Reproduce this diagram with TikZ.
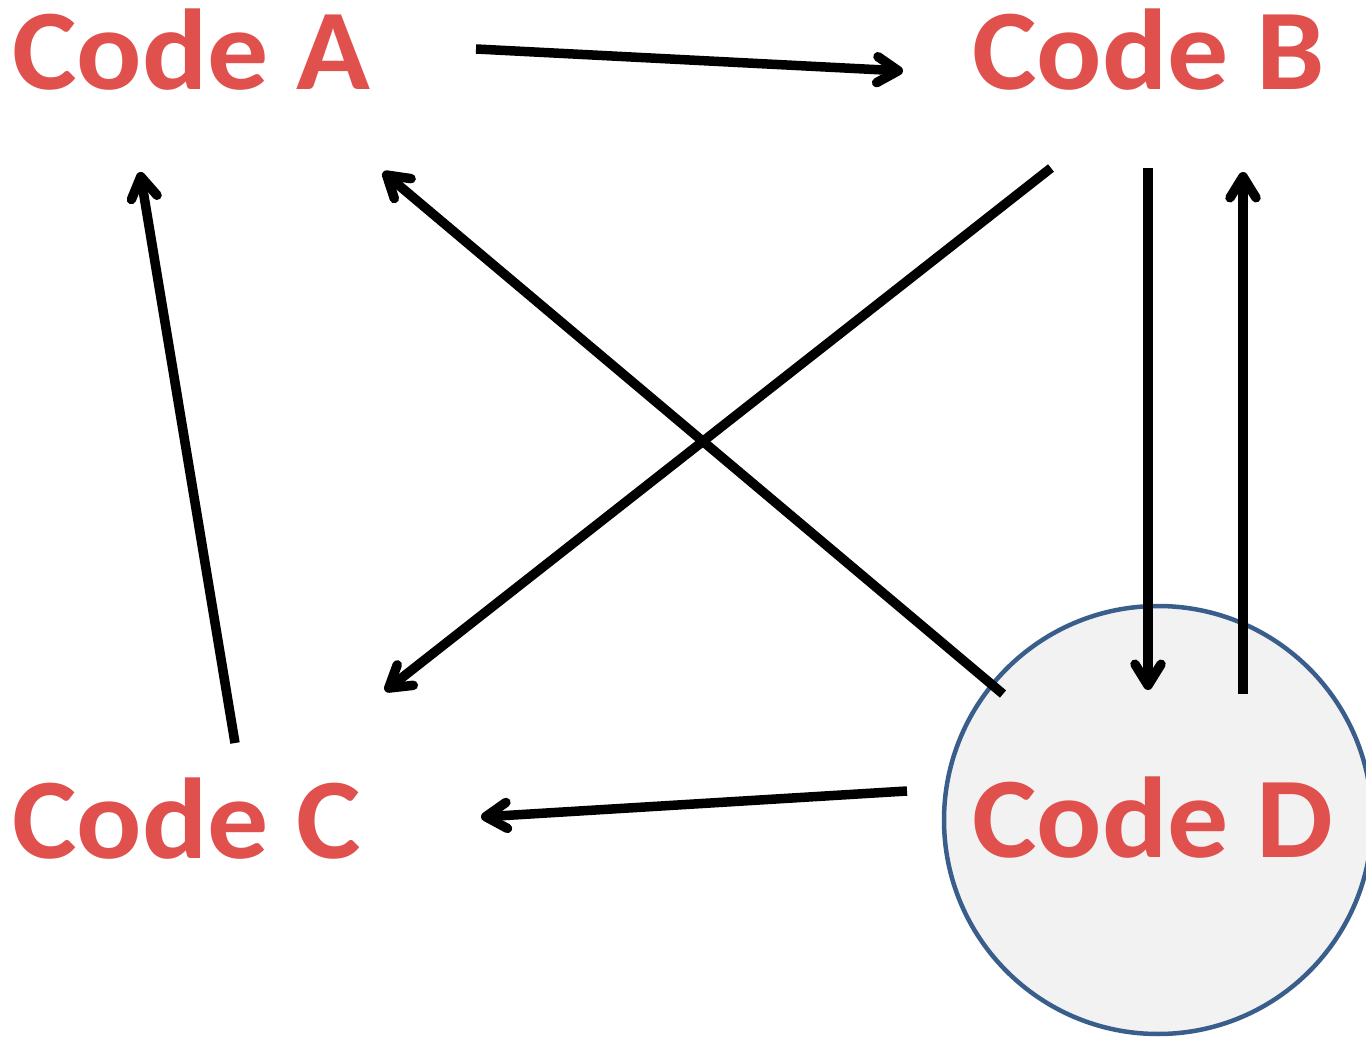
\documentclass[tikz,border=0pt]{standalone}
\usepackage{fontspec}
\usepackage{graphicx}
\setmainfont{Carlito}
\newfontfamily\codefont{Carlito}[FakeBold=1.2,BoldFont=*]
\usetikzlibrary{arrows.meta}
\definecolor{codered}{HTML}{E0504D}
\definecolor{circfill}{HTML}{F2F2F2}
\definecolor{circline}{HTML}{3A5E8C}
\newcommand{\codetext}[1]{\scalebox{1.06}[1]{#1}}
\tikzset{
  codelabel/.style={anchor=base west, inner sep=0pt, text=codered,
    font=\fontsize{115}{122}\selectfont\bfseries},
  link/.style={line width=9.5pt, draw=black,
    -{Straight Barb[length=21pt,width=26pt,line cap=round,line join=round]}}
}
\begin{document}
\begin{tikzpicture}[x=1pt,y=-1pt]
\useasboundingbox (0,0) rectangle (1366,1040);
\node[circle, draw=circline, fill=circfill, line width=4.5pt, minimum size=428pt, inner sep=0pt] (dcirc) at (1158,820) {};
\node[codelabel] (A) at (12,90) {\codetext{Code A}};
\node[codelabel] (B) at (972,90) {\codetext{Code B}};
\node[codelabel] (C) at (12,858) {\codetext{Code C}};
\node[codelabel] (D) at (972,857) {\codetext{Code D}};
% connector end points
\coordinate (ab1) at (476,49);  \coordinate (ab2) at (903,71);
\coordinate (bc1) at (1051,168); \coordinate (bc2) at (385,691);
\coordinate (da1) at (1003,694); \coordinate (da2) at (383,172);
\coordinate (bd1) at (1148,168); \coordinate (bd2) at (1148,690);
\coordinate (db1) at (1243,694); \coordinate (db2) at (1243,172);
\coordinate (ca1) at (235,743);  \coordinate (ca2) at (140,172);
\coordinate (dc1) at (907,791);  \coordinate (dc2) at (481,817);
\draw[link] (ab1) -- (ab2);
\draw[link] (bc1) -- (bc2);
\draw[link] (da1) -- (da2);
\draw[link] (bd1) -- (bd2);
\draw[link] (db1) -- (db2);
\draw[link] (ca1) -- (ca2);
\draw[link] (dc1) -- (dc2);
\end{tikzpicture}
\end{document}
